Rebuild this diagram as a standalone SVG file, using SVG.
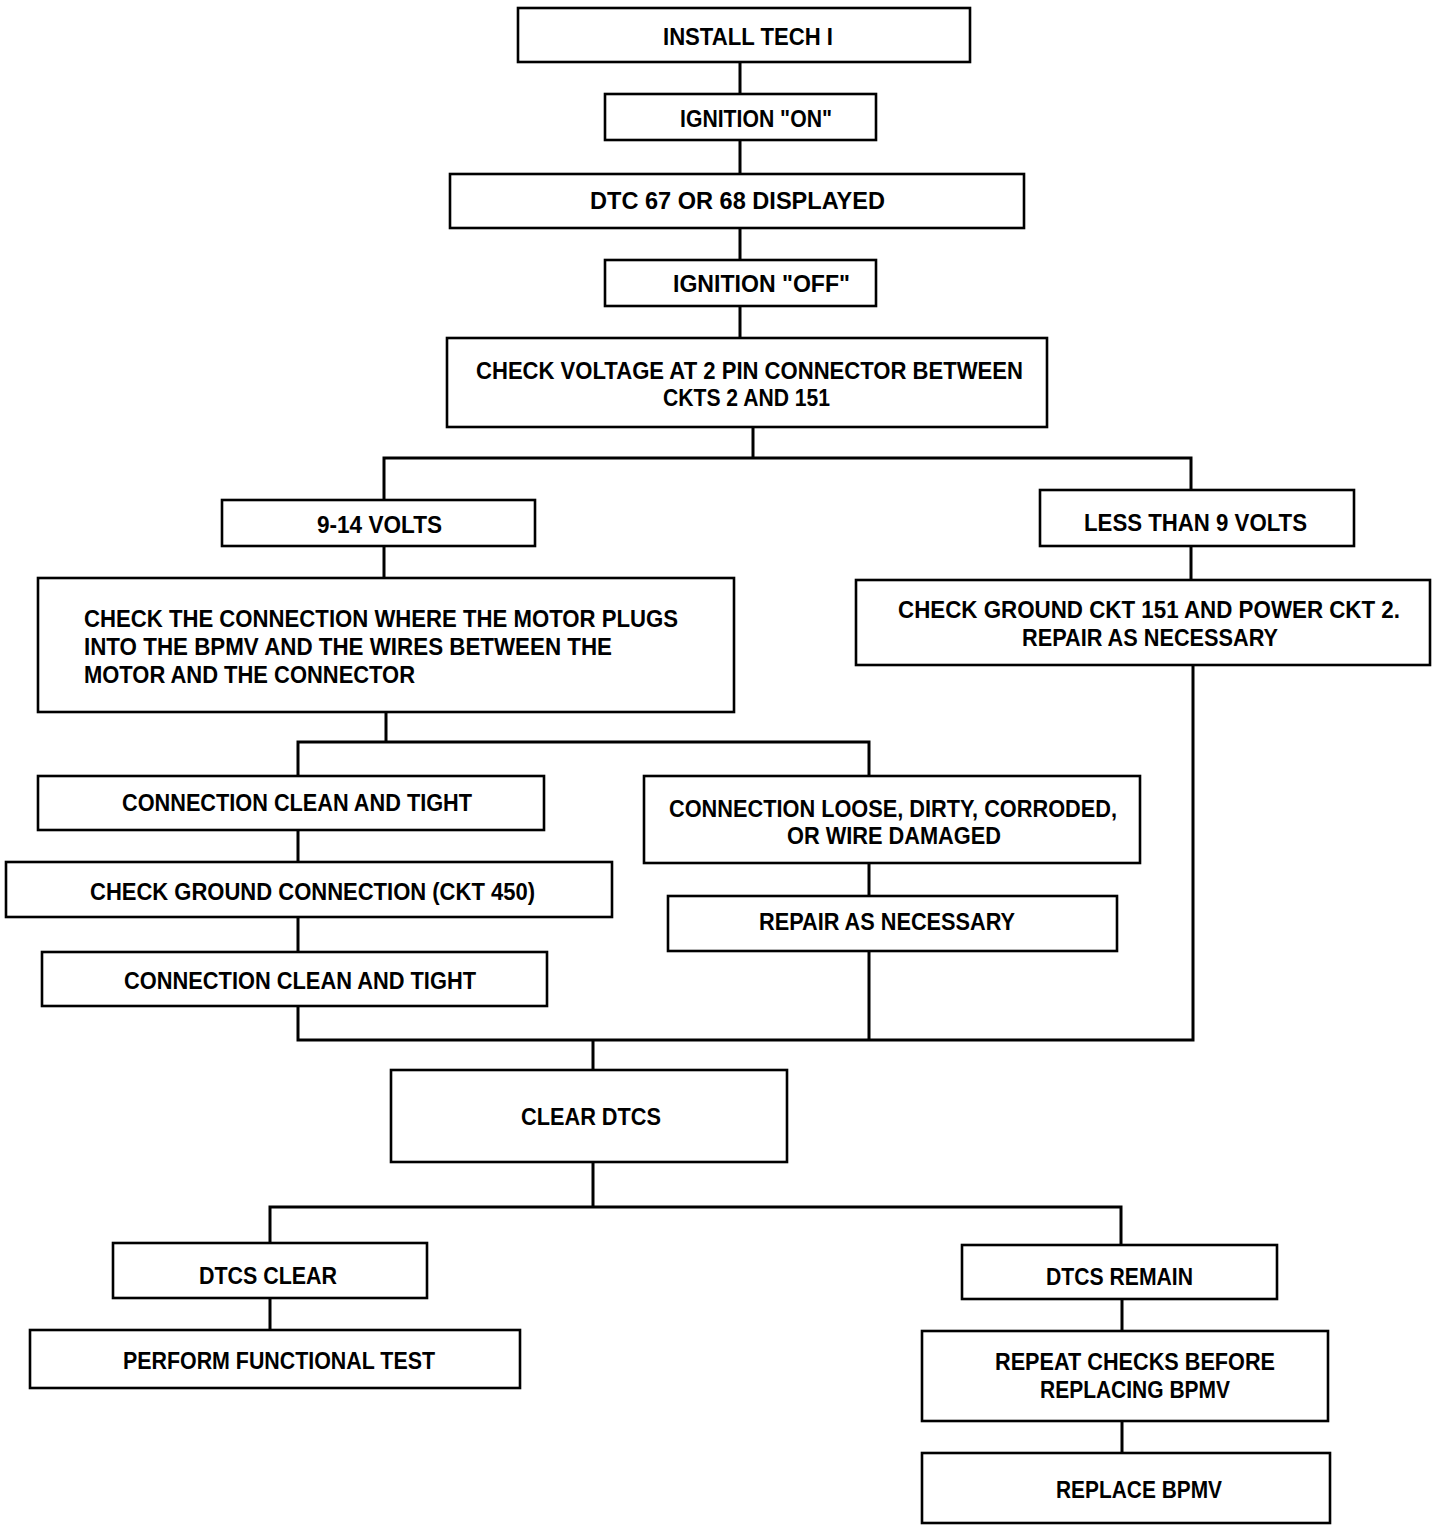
<svg xmlns="http://www.w3.org/2000/svg" width="1456" height="1532" viewBox="0 0 1456 1532">
<style>
.box{fill:#fff;stroke:#000;stroke-width:2.6}
.t{font-family:"Liberation Sans",Arial,sans-serif;font-weight:bold;font-size:24px;fill:#000}
.c{fill:none;stroke:#000;stroke-width:3;stroke-linecap:square}
</style>
<rect width="1456" height="1532" fill="#fff"/>
<g id="connectors">
<path class="c" d="M740 62V94M740 140V174M740 228V260M740 306V338"/>
<path class="c" d="M753 427V458M384 500V458H1191V490"/>
<path class="c" d="M384 546V578M1191 546V580"/>
<path class="c" d="M386 712V742M298 776V742H869V776"/>
<path class="c" d="M298 830V862M298 917V952M869 863V896"/>
<path class="c" d="M298 1006V1040H1193V665M869 951V1040M593 1040V1070"/>
<path class="c" d="M593 1162V1207M270 1243V1207H1121V1245"/>
<path class="c" d="M270 1298V1330M1122 1299V1331M1122 1421V1453"/>
</g>
<g id="n1"><rect class="box" x="518" y="8" width="452" height="54"/><text class="t" x="663" y="45" textLength="170" lengthAdjust="spacingAndGlyphs">INSTALL TECH I</text></g>
<g id="n2"><rect class="box" x="605" y="94" width="271" height="46"/><text class="t" x="680" y="127" textLength="152" lengthAdjust="spacingAndGlyphs">IGNITION "ON"</text></g>
<g id="n3"><rect class="box" x="450" y="174" width="574" height="54"/><text class="t" x="590" y="209" textLength="295" lengthAdjust="spacingAndGlyphs">DTC 67 OR 68 DISPLAYED</text></g>
<g id="n4"><rect class="box" x="605" y="260" width="271" height="46"/><text class="t" x="673" y="292" textLength="177" lengthAdjust="spacingAndGlyphs">IGNITION "OFF"</text></g>
<g id="n5"><rect class="box" x="447" y="338" width="600" height="89"/><text class="t" x="476" y="379" textLength="547" lengthAdjust="spacingAndGlyphs">CHECK VOLTAGE AT 2 PIN CONNECTOR BETWEEN</text><text class="t" x="663" y="406" textLength="167" lengthAdjust="spacingAndGlyphs">CKTS 2 AND 151</text></g>
<g id="n6"><rect class="box" x="222" y="500" width="313" height="46"/><text class="t" x="317" y="533" textLength="125" lengthAdjust="spacingAndGlyphs">9-14 VOLTS</text></g>
<g id="n7"><rect class="box" x="38" y="578" width="696" height="134"/><text class="t" x="84" y="627" textLength="594" lengthAdjust="spacingAndGlyphs">CHECK THE CONNECTION WHERE THE MOTOR PLUGS</text><text class="t" x="84" y="655" textLength="528" lengthAdjust="spacingAndGlyphs">INTO THE BPMV AND THE WIRES BETWEEN THE</text><text class="t" x="84" y="683" textLength="331" lengthAdjust="spacingAndGlyphs">MOTOR AND THE CONNECTOR</text></g>
<g id="n8"><rect class="box" x="38" y="776" width="506" height="54"/><text class="t" x="122" y="811" textLength="350" lengthAdjust="spacingAndGlyphs">CONNECTION CLEAN AND TIGHT</text></g>
<g id="n9"><rect class="box" x="6" y="862" width="606" height="55"/><text class="t" x="90" y="900" textLength="445" lengthAdjust="spacingAndGlyphs">CHECK GROUND CONNECTION (CKT 450)</text></g>
<g id="n10"><rect class="box" x="42" y="952" width="505" height="54"/><text class="t" x="124" y="989" textLength="352" lengthAdjust="spacingAndGlyphs">CONNECTION CLEAN AND TIGHT</text></g>
<g id="n11"><rect class="box" x="644" y="776" width="496" height="87"/><text class="t" x="669" y="817" textLength="448" lengthAdjust="spacingAndGlyphs">CONNECTION LOOSE, DIRTY, CORRODED,</text><text class="t" x="787" y="844" textLength="214" lengthAdjust="spacingAndGlyphs">OR WIRE DAMAGED</text></g>
<g id="n12"><rect class="box" x="668" y="896" width="449" height="55"/><text class="t" x="759" y="930" textLength="256" lengthAdjust="spacingAndGlyphs">REPAIR AS NECESSARY</text></g>
<g id="n13"><rect class="box" x="1040" y="490" width="314" height="56"/><text class="t" x="1084" y="531" textLength="223" lengthAdjust="spacingAndGlyphs">LESS THAN 9 VOLTS</text></g>
<g id="n14"><rect class="box" x="856" y="580" width="574" height="85"/><text class="t" x="898" y="618" textLength="502" lengthAdjust="spacingAndGlyphs">CHECK GROUND CKT 151 AND POWER CKT 2.</text><text class="t" x="1022" y="646" textLength="256" lengthAdjust="spacingAndGlyphs">REPAIR AS NECESSARY</text></g>
<g id="n15"><rect class="box" x="391" y="1070" width="396" height="92"/><text class="t" x="521" y="1125" textLength="140" lengthAdjust="spacingAndGlyphs">CLEAR DTCS</text></g>
<g id="n16"><rect class="box" x="113" y="1243" width="314" height="55"/><text class="t" x="199" y="1284" textLength="138" lengthAdjust="spacingAndGlyphs">DTCS CLEAR</text></g>
<g id="n17"><rect class="box" x="30" y="1330" width="490" height="58"/><text class="t" x="123" y="1369" textLength="312" lengthAdjust="spacingAndGlyphs">PERFORM FUNCTIONAL TEST</text></g>
<g id="n18"><rect class="box" x="962" y="1245" width="315" height="54"/><text class="t" x="1046" y="1285" textLength="147" lengthAdjust="spacingAndGlyphs">DTCS REMAIN</text></g>
<g id="n19"><rect class="box" x="922" y="1331" width="406" height="90"/><text class="t" x="995" y="1370" textLength="280" lengthAdjust="spacingAndGlyphs">REPEAT CHECKS BEFORE</text><text class="t" x="1040" y="1398" textLength="190" lengthAdjust="spacingAndGlyphs">REPLACING BPMV</text></g>
<g id="n20"><rect class="box" x="922" y="1453" width="408" height="70"/><text class="t" x="1056" y="1498" textLength="166" lengthAdjust="spacingAndGlyphs">REPLACE BPMV</text></g>
</svg>
